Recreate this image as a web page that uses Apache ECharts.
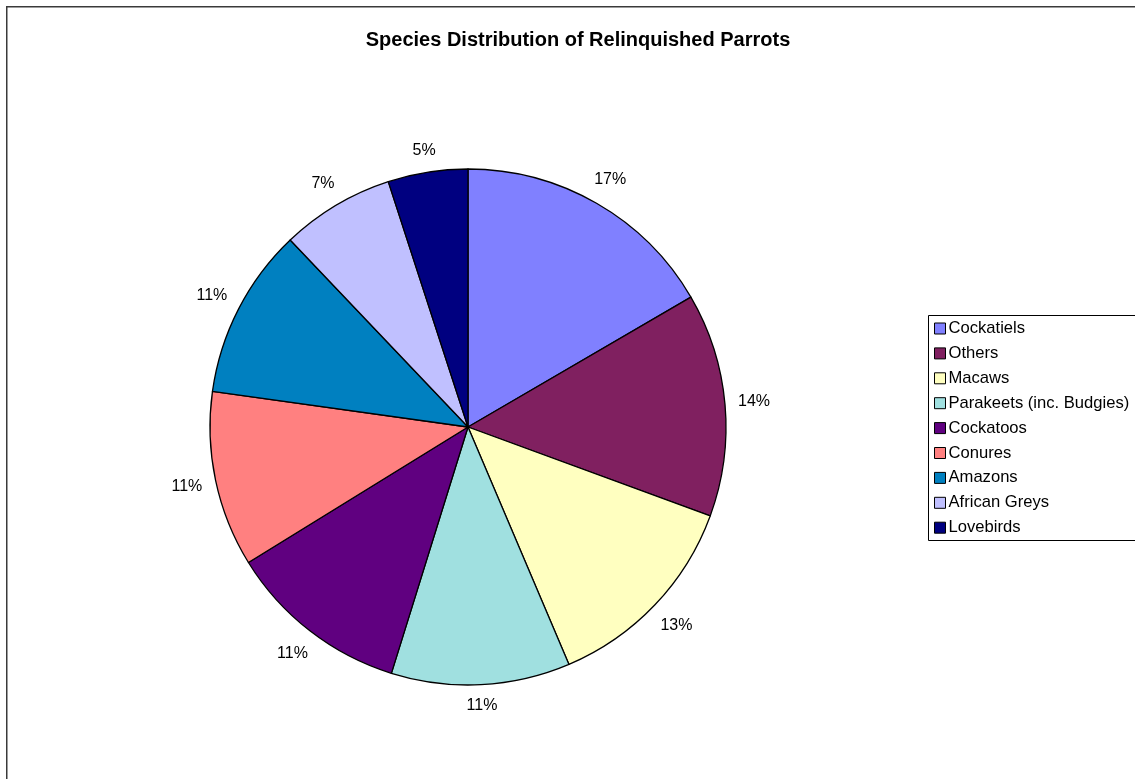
<!DOCTYPE html>
<html>
<head>
<meta charset="utf-8">
<script src="https://cdn.jsdelivr.net/npm/echarts@6/dist/echarts.min.js"></script>
<style>
  html, body { margin: 0; padding: 0; background: #fff; }
  #chart { width: 1135px; height: 779px; }
</style>
</head>
<body>
<div id="chart"></div>
<script>
// Species of relinquished parrots, share of total (percent)
const species = [
  'Cockatiels', 'Others', 'Macaws', 'Parakeets (inc. Budgies)', 'Cockatoos',
  'Conures', 'Amazons', 'African Greys', 'Lovebirds'
];
const shares = [16.6, 14.0, 13.0, 11.2, 11.4, 11.0, 10.7, 7.1, 5.0];
const sliceColors = [
  '#8080FF', '#802060', '#FFFFC0', '#A0E0E0', '#600080',
  '#FF8080', '#0080C0', '#C0C0FF', '#000080'
];
const chartTitle = 'Species Distribution of Relinquished Parrots';

const FONT = '"Liberation Sans", Arial, sans-serif';
const CX = 468, CY = 427, R = 258;
const LABEL_GAP = 12.5;

// mid-angle of every slice, measured clockwise from 12 o'clock
const total = shares.reduce((a, b) => a + b, 0);
const midAngles = [];
shares.reduce((acc, v) => {
  midAngles.push((acc + v / 2) / total * Math.PI * 2);
  return acc + v;
}, 0);

const sliceData = species.map((name, i) => ({
  name: name,
  value: shares[i],
  itemStyle: { color: sliceColors[i] }
}));

const chart = echarts.init(document.getElementById('chart'), null, { renderer: 'canvas' });
chart.setOption({
  backgroundColor: '#fff',
  animation: false,
  color: sliceColors,
  graphic: [
    // outer chart frame
    {
      type: 'rect', silent: true, z: 0,
      shape: { x: 6.75, y: 6.75, width: 1300, height: 1000 },
      style: { fill: null, stroke: '#3a3a3a', lineWidth: 1.5 }
    },
    // legend frame
    {
      type: 'rect', silent: true, z: 0,
      shape: { x: 928.5, y: 315.5, width: 300, height: 225 },
      style: { fill: '#fff', stroke: '#000', lineWidth: 1 }
    },
    {
      type: 'text', silent: true, z: 5,
      x: 578, y: 40.5,
      style: {
        text: chartTitle,
        font: 'bold 20px ' + FONT,
        fill: '#000',
        textAlign: 'center',
        textVerticalAlign: 'middle'
      }
    }
  ],
  legend: {
    orient: 'vertical',
    left: 934,
    top: 320,
    padding: 0,
    itemWidth: 11,
    itemHeight: 11,
    itemGap: 7.9,
    icon: 'rect',
    data: species,
    itemStyle: { borderColor: '#000', borderWidth: 1 },
    textStyle: { fontFamily: FONT, fontSize: 16.6, color: '#000', padding: [0, 0, 0, -2] }
  },
  series: [
    {
      name: 'Species',
      type: 'pie',
      center: [CX, CY],
      radius: R,
      startAngle: 90,
      clockwise: true,
      percentPrecision: 0,
      avoidLabelOverlap: false,
      itemStyle: { borderColor: '#000', borderWidth: 1.3 },
      label: {
        show: true,
        position: 'inside',
        formatter: '{d}%',
        fontFamily: FONT,
        fontSize: 16,
        color: '#000'
      },
      labelLine: { show: false },
      // percentage labels sit just outside the rim, their box kept a fixed gap away from it
      labelLayout: function (params) {
        const a = midAngles[params.dataIndex];
        const s = Math.sin(a), c = Math.cos(a);
        const w = params.labelRect.width, h = params.labelRect.height;
        const d = R + LABEL_GAP + (w / 2) * Math.abs(s) + (h / 2) * Math.abs(c);
        return {
          x: CX + d * s,
          y: CY - d * c,
          align: 'center',
          verticalAlign: 'middle'
        };
      },
      emphasis: { scale: false },
      data: sliceData
    }
  ]
});
</script>
</body>
</html>
